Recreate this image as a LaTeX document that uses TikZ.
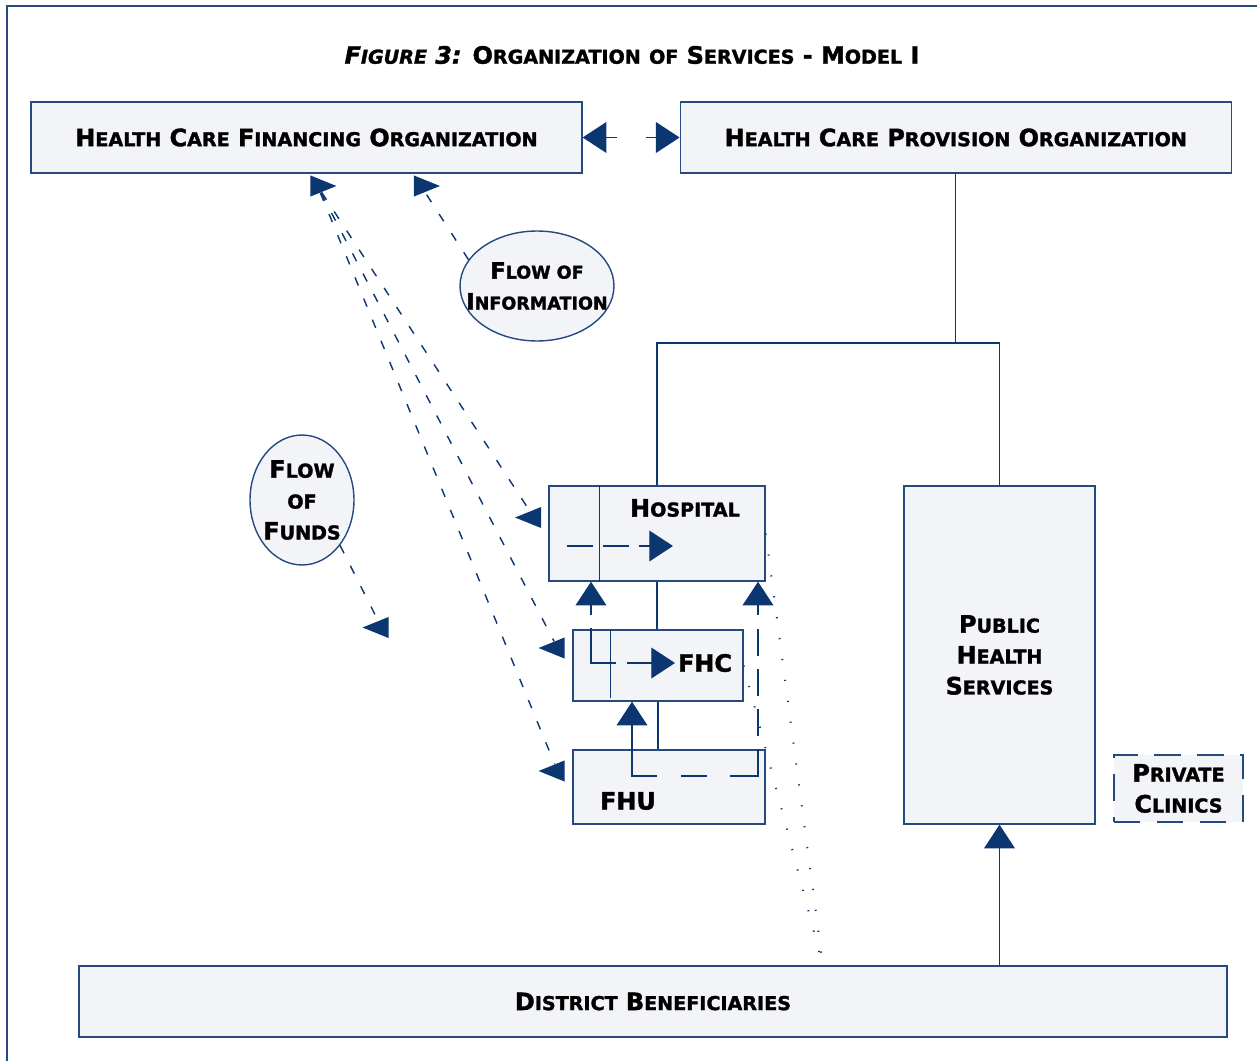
\documentclass[tikz,border=0pt]{standalone}
\usepackage{fontspec}
\setmainfont{DejaVu Sans}[BoldFeatures={FakeBold=1.6}, BoldItalicFeatures={FakeBold=1.6}]
\usepackage{relsize}
\definecolor{Navy1}{RGB}{12,54,112}
\definecolor{Linea1}{RGB}{38,74,128}
\definecolor{Fondo1}{RGB}{242,244,248}
\usetikzlibrary{positioning, arrows.meta, shapes.geometric}
\newcommand{\smc}[1]{{\relscale{0.8}#1}}

\begin{document}
\begin{tikzpicture}[
  x=0.02cm, y=-0.02cm,
  font=\bfseries\fontsize{13.6}{17.6}\selectfont,
  %% Estilos base: cajas claras con borde azul
  box/.style={rectangle, draw=Linea1, fill=Fondo1, line width=0.8pt,
              align=center, inner sep=0pt},
  oval/.style={ellipse, draw=Linea1, fill=Fondo1, line width=0.8pt,
               inner sep=0pt},
  tri/.style={isosceles triangle, isosceles triangle stretches,
              shape border rotate=#1, fill=Navy1, inner sep=0pt,
              minimum width=12pt, minimum height=14.8pt},
  Punta/.tip={Triangle[length=13.5pt, width=17.5pt]},
  conn/.style={draw=Navy1, line width=0.8pt},
  arr/.style={conn, -Punta},
  flow/.style={conn, dash pattern=on 5pt off 8pt},
  dots/.style={draw=Navy1, line width=1.1pt, dash pattern=on 0.7pt off 11.3pt}
]
\useasboundingbox (0,0) rectangle (1257,1061);
\draw[Linea1, line width=1.2pt] (7,1061) -- (7,6) -- (1257,6);

%% ── Titulo ───────────────────────────────────────────────────────────────
\node (titulo) at (632,55)
  {{\itshape F\smc{IGURE} 3:} O\smc{RGANIZATION} \smc{OF} S\smc{ERVICES} - M\smc{ODEL} I};

%% ── Fila superior ────────────────────────────────────────────────────────
\node[box, minimum width=11.02cm, minimum height=1.42cm] (hcfo) at (306.5,137.5)
  {H\smc{EALTH} C\smc{ARE} F\smc{INANCING} O\smc{RGANIZATION}};
\node[box, minimum width=11.02cm, minimum height=1.42cm, right=1.94cm of hcfo] (hcpo)
  {H\smc{EALTH} C\smc{ARE} P\smc{ROVISION} O\smc{RGANIZATION}};

%% ── Ovalos ───────────────────────────────────────────────────────────────
\node[oval, minimum width=3.08cm, minimum height=2.2cm,
      label={[align=center, font=\bfseries\fontsize{12.8}{17.6}\selectfont]center:F\smc{LOW OF}\\I\smc{NFORMATION}}] (infoE) at (537,286) {};
\node[oval, minimum width=2.08cm, minimum height=2.6cm,
      label={[align=center]center:F\smc{LOW}\\\smc{OF}\\F\smc{UNDS}}] (fundsE) at (302,500) {};

%% ── Red de servicios ─────────────────────────────────────────────────────
\node[box, minimum width=4.32cm, minimum height=1.9cm,
      label={[xshift=0.56cm, yshift=0.51cm]center:H\smc{OSPITAL}}] (hosp) at (657,533.5) {};
\node[box, minimum width=3.4cm, minimum height=1.42cm,
      label={[xshift=0.94cm, yshift=0.05cm]center:FHC}] (fhc) at (658,665.5) {};
\node[box, minimum width=3.84cm, minimum height=1.48cm,
      label={[xshift=-0.82cm, yshift=-0.28cm]center:FHU}] (fhu) at (669,787) {};
\node[box, minimum width=3.82cm, minimum height=6.76cm] (phs) at (999.5,655)
  {P\smc{UBLIC}\\H\smc{EALTH}\\S\smc{ERVICES}};
\node[box, minimum width=2.58cm, minimum height=1.34cm,
      dash pattern=on 15pt off 9.5pt] (priv) at (1178.5,788.5)
  {P\smc{RIVATE}\\C\smc{LINICS}};
\node[box, minimum width=22.96cm, minimum height=1.42cm] (db) at (653,1001.5)
  {D\smc{ISTRICT} B\smc{ENEFICIARIES}};

%% ── Puntas sueltas ───────────────────────────────────────────────────────
\node[tri=0]   (mkA) at (317.5,186) {};
\node[tri=0]   (mkB) at (421,186) {};
\node[tri=180] (mkH) at (534,517.5) {};
\node[tri=180] (mkC) at (557.5,648) {};
\node[tri=180] (mkU) at (557.5,771) {};
\node[tri=180] (mkF) at (381.5,627.5) {};

%% ── Organigrama ──────────────────────────────────────────────────────────
\coordinate (split) at (hcpo.south |- 0,343);
\draw[conn, Punta-Punta, dash pattern=on 6.3pt off 16.5pt on 12pt] (hcfo.east) -- (hcpo.west);
\draw[conn] (hcpo.south) -- (split);
\draw[conn] (hosp.north) |- (split) -| (phs.north);
\draw[conn] (hosp.south) -- (hosp.south |- fhc.north);
\draw[conn] (fhc.south) -- (fhc.south |- fhu.north);
\draw[arr] (db.north -| phs.south) -- (phs.south);

%% ── Lineas internas ──────────────────────────────────────────────────────
\coordinate (hospA) at (567,546);
\coordinate (hospB) at (673,546);
\coordinate (fhcL) at (591,663);
\coordinate (fhcR) at (675,663);
\coordinate (fhuL) at (632,776);
\coordinate (fhuR) at (758,776);
\draw[conn] ([xshift=1.02cm]hosp.north west) -- ([xshift=1.02cm]hosp.south west);
\draw[conn] ([xshift=0.76cm]fhc.north west) -- ([xshift=0.76cm, yshift=0.08cm]fhc.south west);
\draw[arr, dash pattern=on 14.8pt off 5.7pt] (hospA) -- (hospB);
\draw[conn, Punta-Punta, dash pattern=on 5.7pt off 7.4pt on 34.1pt off 6.3pt on 17pt]
  (fhcL |- hosp.south) -- (fhcL) -- (fhcR);
\draw[conn, Punta-Punta, dash pattern=on 43.2pt off 13.7pt on 14.8pt off 13.1pt on 31.3pt
  off 7.4pt on 15.4pt off 7.4pt on 15.4pt off 7.4pt on 15.4pt off 8pt on 11.4pt]
  (fhuL |- fhc.south) -- (fhuL) -- (fhuR) -- (fhuR |- hosp.south);

%% ── Flujos de fondos e informacion ───────────────────────────────────────
\draw[flow] (mkA) -- (mkH);
\draw[flow] (mkA) -- (mkC);
\draw[flow] (mkA) -- (mkU);
\draw[flow] (infoE.159) -- (mkB);
\draw[flow] (fundsE.-50) -- (mkF);

%% ── Beneficiarios ────────────────────────────────────────────────────────
\coordinate (dbin) at (823,966);
\draw[dots] (hosp.east) -- (dbin);
\draw[dots] (fhc.east) -- (dbin);

\end{tikzpicture}
\end{document}
